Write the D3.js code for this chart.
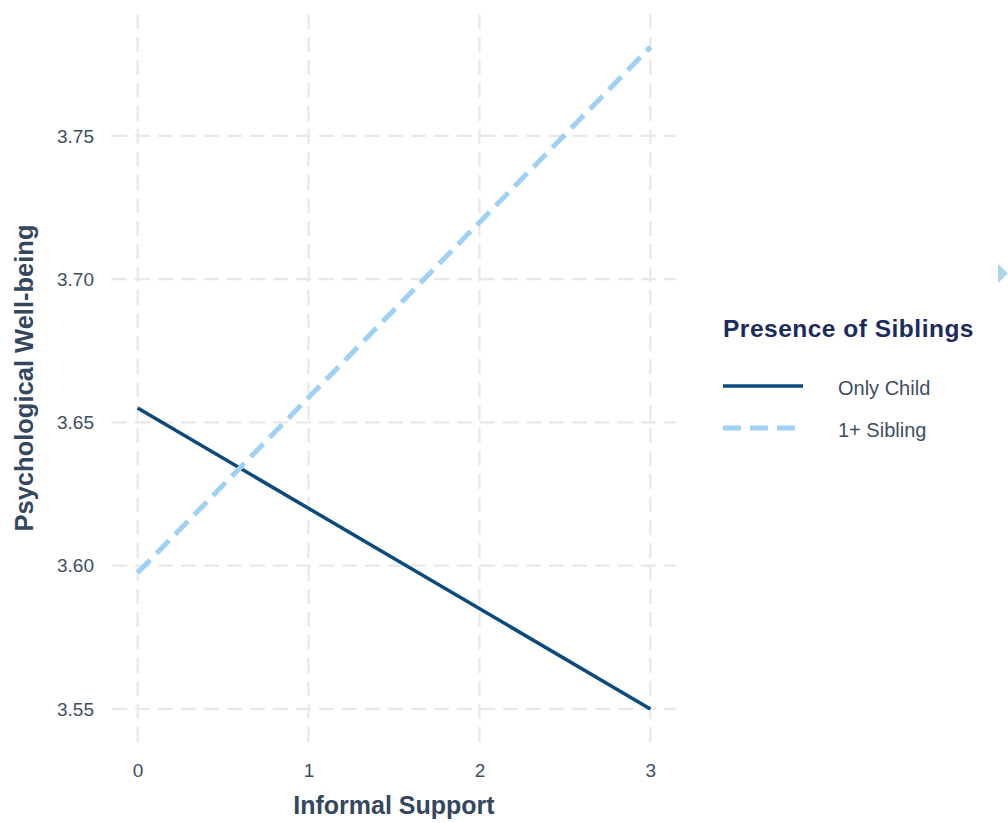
<!DOCTYPE html>
<html>
<head>
<meta charset="utf-8">
<script src="https://cdn.jsdelivr.net/npm/d3@7"></script>
<style>
  html, body { margin: 0; padding: 0; background: #ffffff; }
  svg { display: block; font-family: "Liberation Sans", Arial, sans-serif; }
</style>
</head>
<body>
<svg id="chart" width="1008" height="823"></svg>
<script>
// ---- data ----
const xValues = [0, 3];
const onlyChild = [3.655, 3.550];
const oneSibling = [3.5975, 3.781];
const seriesNames = ["Only Child", "1+ Sibling"];
const xTicks = [0, 1, 2, 3];
const yTicks = [3.55, 3.60, 3.65, 3.70, 3.75];
const xTitle = "Informal Support";
const yTitle = "Psychological Well-being";
const legendTitle = "Presence of Siblings";

const svg = d3.select("#chart");
const panel = { left: 112, right: 676, top: 14, bottom: 742 };

const allY = onlyChild.concat(oneSibling);
const yMin = d3.min(allY), yMax = d3.max(allY);
const yPad = (yMax - yMin) * 0.05;
const xPad = (d3.max(xValues) - d3.min(xValues)) * 0.05;

const x = d3.scaleLinear()
  .domain([d3.min(xValues) - xPad, d3.max(xValues) + xPad])
  .range([panel.left, panel.right]);
const y = d3.scaleLinear()
  .domain([yMin - yPad, yMax + yPad])
  .range([panel.bottom, panel.top]);

const gridColor = "#e8e8e8";
// gridlines
svg.append("g").selectAll("line.h").data(yTicks).join("line")
  .attr("x1", panel.left).attr("x2", panel.right)
  .attr("y1", d => y(d)).attr("y2", d => y(d))
  .attr("stroke", gridColor).attr("stroke-width", 2.2)
  .attr("stroke-dasharray", "15,8");
svg.append("g").selectAll("line.v").data(xTicks).join("line")
  .attr("y1", panel.top).attr("y2", panel.bottom)
  .attr("x1", d => x(d)).attr("x2", d => x(d))
  .attr("stroke", gridColor).attr("stroke-width", 2.2)
  .attr("stroke-dasharray", "15,8");

// axes (text only)
const tickColor = "#3d4e63";
const xAxis = d3.axisBottom(x).tickValues(xTicks).tickFormat(d3.format("d")).tickSize(0).tickPadding(0);
const gx = svg.append("g").attr("transform", `translate(0, ${panel.bottom + 21})`).call(xAxis);
gx.select(".domain").remove();
gx.selectAll("text").attr("font-size", 19).attr("fill", tickColor)
  .attr("font-family", "Liberation Sans, Arial, sans-serif").attr("dy", "0.71em");

const yAxis = d3.axisLeft(y).tickValues(yTicks).tickFormat(d3.format(".2f")).tickSize(0).tickPadding(0);
const gy = svg.append("g").attr("transform", `translate(${panel.left - 18}, 0)`).call(yAxis);
gy.select(".domain").remove();
gy.selectAll("text").attr("font-size", 19).attr("fill", tickColor)
  .attr("font-family", "Liberation Sans, Arial, sans-serif");

// axis titles
const titleColor = "#34475e";
svg.append("text")
  .attr("x", (x(0) + x(3)) / 2).attr("y", 814)
  .attr("text-anchor", "middle")
  .attr("font-size", 25).attr("font-weight", "bold").attr("fill", titleColor)
  .text(xTitle);
svg.append("text")
  .attr("transform", `translate(33, ${(panel.top + panel.bottom) / 2}) rotate(-90)`)
  .attr("text-anchor", "middle")
  .attr("font-size", 25.5).attr("font-weight", "bold").attr("fill", titleColor)
  .text(yTitle);

// lines
const line = d3.line().x(d => x(d[0])).y(d => y(d[1]));
const styles = [
  { color: "#0b4a7c", width: 3.5, dash: null },
  { color: "#9fd0f5", width: 5, dash: "18,9" }
];
const series = [onlyChild, oneSibling];
series.forEach((vals, i) => {
  const p = svg.append("path")
    .datum(xValues.map((xv, j) => [xv, vals[j]]))
    .attr("d", line)
    .attr("fill", "none")
    .attr("stroke", styles[i].color)
    .attr("stroke-width", styles[i].width);
  if (styles[i].dash) p.attr("stroke-dasharray", styles[i].dash);
});

// legend
const lg = svg.append("g");
lg.append("text").attr("x", 723).attr("y", 337)
  .attr("font-size", 24.5).attr("font-weight", "bold").attr("fill", "#1b2b5e")
  .attr("letter-spacing", 0.5)
  .text(legendTitle);
seriesNames.forEach((name, i) => {
  const ly = 386 + i * 42;
  const l = lg.append("line").attr("x1", 723).attr("x2", i === 0 ? 803 : 795)
    .attr("y1", ly).attr("y2", ly)
    .attr("stroke", styles[i].color).attr("stroke-width", i === 0 ? 3.5 : 5);
  if (styles[i].dash) l.attr("stroke-dasharray", styles[i].dash);
  lg.append("text").attr("x", 838).attr("y", ly + 8.5)
    .attr("font-size", 20).attr("fill", tickColor).text(name);
});

// small decorative triangle at right edge
svg.append("path")
  .attr("d", d3.line()([[998, 264], [1008, 273.5], [998, 283]]) + "Z")
  .attr("fill", "#a9d6e4");
</script>
</body>
</html>
